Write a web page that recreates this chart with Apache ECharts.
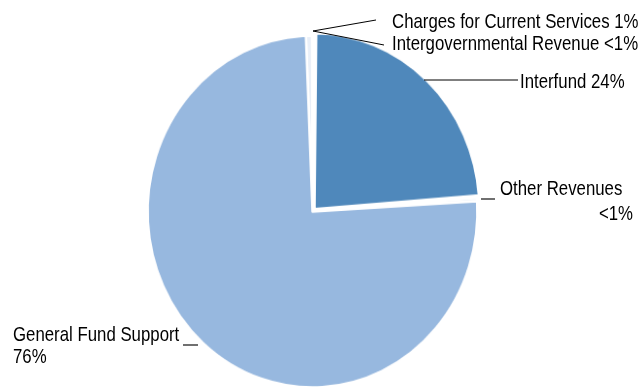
<!DOCTYPE html>
<html>
<head>
<meta charset="utf-8">
<script src="https://cdn.jsdelivr.net/npm/echarts@6/dist/echarts.min.js"></script>
<style>
html,body{margin:0;padding:0;background:#fff;overflow:hidden;}
#wrap{position:relative;width:643px;height:388px;}
#pie{position:absolute;left:0;top:0;width:643px;height:388px;transform-origin:312.5px 211.5px;transform:scale(0.97,1.035);}
#labels{position:absolute;left:0;top:0;width:643px;height:388px;}
</style>
</head>
<body>
<div id="wrap"><div id="pie"></div><div id="labels"></div></div>
<script>
const categories = ['Charges for Current Services', 'Intergovernmental Revenue', 'Interfund', 'Other Revenues', 'General Fund Support'];
const values = [0.6, 0.2, 23.6, 0.3, 75.3];
const pctLabels = ['1%', '<1%', '24%', '<1%', '76%'];
const colors = ['#e9eff8', '#f2f6fb', '#4f88bb', '#e9eff8', '#97b8df'];

const FONT = "'Liberation Sans', Arial, sans-serif";
const FSIZE = 21;
const NARROW = 0.8;

// label placement (layout only): lines of text and leader lines
const labelSpecs = [
  { lines: [categories[0] + ' ' + pctLabels[0]], x: 392, y: [22], align: 'left',
    leader: [[313, 31], [376, 20]], leaderColor: '#000' },
  { lines: [categories[1] + ' ' + pctLabels[1]], x: 392, y: [44], align: 'left',
    leader: [[313, 31], [384, 45]], leaderColor: '#000' },
  { lines: [categories[2] + ' ' + pctLabels[2]], x: 520, y: [82], align: 'left',
    leader: [[424, 80], [518, 80]], leaderColor: '#000' },
  { lines: [categories[3], pctLabels[3]], x: [500, 633], y: [189, 214], align: ['left', 'right'],
    leader: [[481, 199], [495, 199]], leaderColor: '#404040' },
  { lines: [categories[4], pctLabels[4]], x: 13, y: [335, 357], align: 'left',
    leader: [[183, 345], [198, 345]], leaderColor: '#404040' }
];

const graphics = [];
labelSpecs.forEach(spec => {
  spec.lines.forEach((t, j) => {
    const x = Array.isArray(spec.x) ? spec.x[j] : spec.x;
    const al = Array.isArray(spec.align) ? spec.align[j] : spec.align;
    graphics.push({
      type: 'text', x: x, y: spec.y[j], scaleX: NARROW, scaleY: 1, originX: 0, originY: 0,
      silent: true,
      style: { text: t, x: 0, y: 0, textAlign: al, textVerticalAlign: 'middle',
               font: FSIZE + 'px ' + FONT, fill: '#000' }
    });
  });
  graphics.push({
    type: 'polyline', silent: true,
    shape: { points: spec.leader },
    style: { stroke: spec.leaderColor, lineWidth: spec.leaderColor === '#000' ? 1 : 1.5, fill: null }
  });
});

const data = categories.map((c, i) => ({
  name: c,
  value: values[i],
  selected: i === 2,
  itemStyle: { color: colors[i] }
}));

const pie = echarts.init(document.getElementById('pie'), null, { renderer: 'canvas' });
pie.setOption({
  animation: false,
  series: [{
    type: 'pie',
    center: [312.5, 211.5],
    radius: 170,
    startAngle: 92.3,
    clockwise: true,
    selectedMode: 'single',
    selectedOffset: 3,
    avoidLabelOverlap: false,
    itemStyle: { borderColor: '#ffffff', borderWidth: 2.5 },
    emphasis: { disabled: true },
    label: { show: false },
    labelLine: { show: false },
    data: data
  }]
});

const labels = echarts.init(document.getElementById('labels'), null, { renderer: 'canvas' });
labels.setOption({
  animation: false,
  graphic: graphics
});
</script>
</body>
</html>
